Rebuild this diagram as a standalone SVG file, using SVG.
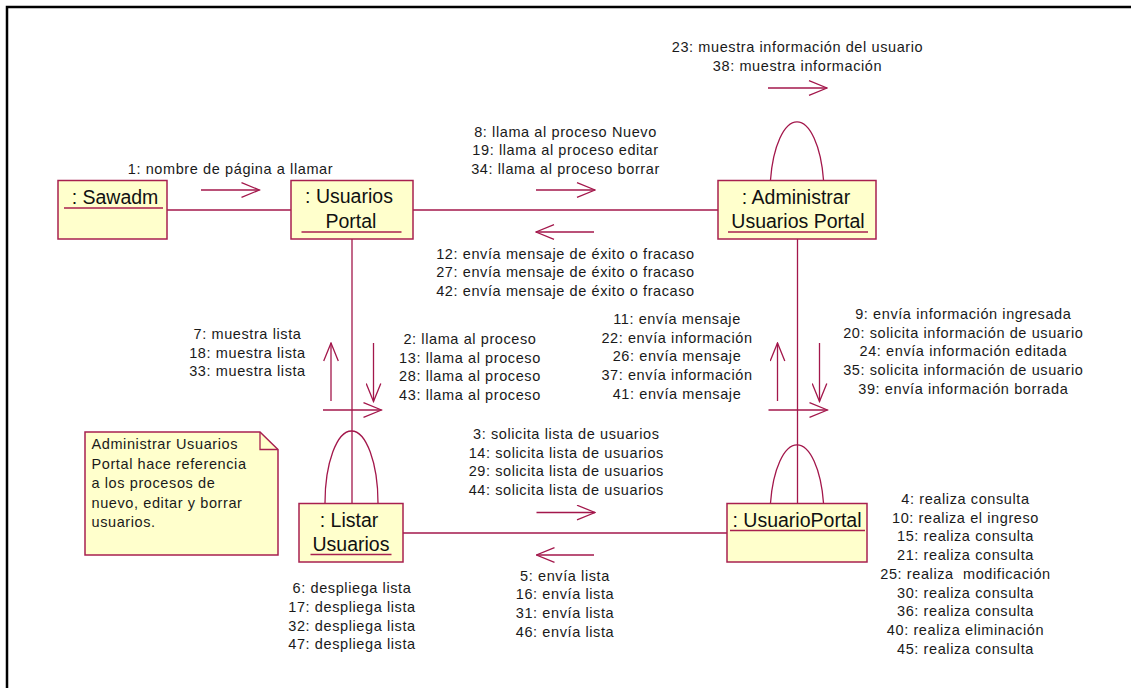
<svg xmlns="http://www.w3.org/2000/svg" width="1131" height="688" viewBox="0 0 1131 688">
  <style>
    .obj { fill: #FFFFCC; stroke: #A8204F; stroke-width: 1.5; }
    .name { font-family: "Liberation Sans", Arial, sans-serif; font-size: 19.5px; fill: #111; text-anchor: middle; }
    .uline { stroke: #A8204F; stroke-width: 1.3; }
    .link { stroke: #A3174B; stroke-width: 1.3; fill: none; }
    .msg { stroke: #A3174B; stroke-width: 1.3; fill: none; marker-end: url(#open); }
    .lbl { font-family: "Liberation Sans", Arial, sans-serif; font-size: 14.5px; letter-spacing: 0.6px; fill: #1a1a1a; text-anchor: middle; white-space: pre; }
    .note-t { font-family: "Liberation Sans", Arial, sans-serif; font-size: 14.5px; letter-spacing: 0.6px; fill: #1a1a1a; }
  </style>
  <defs>
    <marker id="open" viewBox="0 0 20 16" refX="19" refY="8" markerWidth="20" markerHeight="16" markerUnits="userSpaceOnUse" orient="auto">
      <path d="M1,0.7 L19,8 L1,15.3" fill="none" stroke="#A3174B" stroke-width="1.3"/>
    </marker>
  </defs>

  <rect width="1131" height="688" fill="#ffffff"/>
  <!-- diagram frame -->
  <rect x="7" y="7" width="1140" height="700" fill="none" stroke="#000" stroke-width="2.5"/>

  <!-- links and messages -->
  <g id="connectors">
    <line class="link" x1="167" y1="210" x2="291" y2="210"/>
    <line class="link" x1="413" y1="210" x2="718" y2="210"/>
    <line class="link" x1="352" y1="239" x2="352" y2="503"/>
    <line class="link" x1="797.5" y1="239" x2="797.5" y2="503"/>
    <line class="link" x1="403" y1="533" x2="727" y2="533"/>
    <!-- self links -->
    <path class="link" d="M770.5,180 A27,72 0 0 1 823.5,180"/>
    <path class="link" d="M325,503 A26.5,72 0 0 1 378,503"/>
    <path class="link" d="M770.5,503 A27,72 0 0 1 823.5,503"/>

    <!-- message arrows -->
    <line class="msg" x1="201" y1="190" x2="259.5" y2="190"/>
    <line class="msg" x1="536" y1="190" x2="595" y2="190"/>
    <line class="msg" x1="594" y1="232" x2="536" y2="232"/>
    <line class="msg" x1="768" y1="88" x2="827" y2="88"/>
    <line class="msg" x1="331" y1="401" x2="331" y2="343"/>
    <line class="msg" x1="373.5" y1="343" x2="373.5" y2="401.5"/>
    <line class="msg" x1="323" y1="410" x2="381.5" y2="410"/>
    <line class="msg" x1="777.5" y1="401" x2="777.5" y2="343"/>
    <line class="msg" x1="819.5" y1="343" x2="819.5" y2="401.5"/>
    <line class="msg" x1="768.5" y1="410" x2="827.5" y2="410"/>
    <line class="msg" x1="536.5" y1="512.5" x2="595" y2="512.5"/>
    <line class="msg" x1="594" y1="555" x2="536.5" y2="555"/>

    <!-- message labels -->
    <text class="lbl" x="230.5" y="174">1: nombre de página a llamar</text>
    <text class="lbl" x="565.5" y="136.5">8: llama al proceso Nuevo</text>
    <text class="lbl" x="565.5" y="155.2">19: llama al proceso editar</text>
    <text class="lbl" x="565.5" y="174">34: llama al proceso borrar</text>
    <text class="lbl" x="565.5" y="258.5">12: envía mensaje de éxito o fracaso</text>
    <text class="lbl" x="565.5" y="277.2">27: envía mensaje de éxito o fracaso</text>
    <text class="lbl" x="565.5" y="296">42: envía mensaje de éxito o fracaso</text>
    <text class="lbl" x="797.5" y="52">23: muestra información del usuario</text>
    <text class="lbl" x="797.5" y="71">38: muestra información</text>
    <text class="lbl" x="247.5" y="339">7: muestra lista</text>
    <text class="lbl" x="247.5" y="357.5">18: muestra lista</text>
    <text class="lbl" x="247.5" y="376">33: muestra lista</text>
    <text class="lbl" x="470" y="344">2: llama al proceso</text>
    <text class="lbl" x="470" y="362.7">13: llama al proceso</text>
    <text class="lbl" x="470" y="381.4">28: llama al proceso</text>
    <text class="lbl" x="470" y="400">43: llama al proceso</text>
    <text class="lbl" x="677" y="324">11: envía mensaje</text>
    <text class="lbl" x="677" y="342.7">22: envía información</text>
    <text class="lbl" x="677" y="361.4">26: envía mensaje</text>
    <text class="lbl" x="677" y="380">37: envía información</text>
    <text class="lbl" x="677" y="398.7">41: envía mensaje</text>
    <text class="lbl" x="963.3" y="319">9: envía información ingresada</text>
    <text class="lbl" x="963.3" y="337.7">20: solicita información de usuario</text>
    <text class="lbl" x="963.3" y="356.4">24: envía información editada</text>
    <text class="lbl" x="963.3" y="375">35: solicita información de usuario</text>
    <text class="lbl" x="963.3" y="393.7">39: envía información borrada</text>
    <text class="lbl" x="566.3" y="439">3: solicita lista de usuarios</text>
    <text class="lbl" x="566.3" y="457.7">14: solicita lista de usuarios</text>
    <text class="lbl" x="566.3" y="476.4">29: solicita lista de usuarios</text>
    <text class="lbl" x="566.3" y="495">44: solicita lista de usuarios</text>
    <text class="lbl" x="565" y="580.7">5: envía lista</text>
    <text class="lbl" x="565" y="599.4">16: envía lista</text>
    <text class="lbl" x="565" y="618">31: envía lista</text>
    <text class="lbl" x="565" y="636.7">46: envía lista</text>
    <text class="lbl" x="352" y="593.3">6: despliega lista</text>
    <text class="lbl" x="352" y="612">17: despliega lista</text>
    <text class="lbl" x="352" y="630.7">32: despliega lista</text>
    <text class="lbl" x="352" y="649.4">47: despliega lista</text>
    <text class="lbl" x="965.5" y="504">4: realiza consulta</text>
    <text class="lbl" x="965.5" y="522.7">10: realiza el ingreso</text>
    <text class="lbl" x="965.5" y="541.4">15: realiza consulta</text>
    <text class="lbl" x="965.5" y="560.1">21: realiza consulta</text>
    <text class="lbl" x="965.5" y="578.8">25: realiza  modificación</text>
    <text class="lbl" x="965.5" y="597.5">30: realiza consulta</text>
    <text class="lbl" x="965.5" y="616.2">36: realiza consulta</text>
    <text class="lbl" x="965.5" y="634.9">40: realiza eliminación</text>
    <text class="lbl" x="965.5" y="653.6">45: realiza consulta</text>
  </g>

  <!-- objects -->
  <g id="sawadm">
    <rect class="obj" x="58" y="180.5" width="109" height="58.5"/>
    <text class="name" x="115" y="204">: Sawadm</text>
    <line class="uline" x1="64" y1="208" x2="163" y2="208"/>
  </g>
  <g id="usuarios-portal">
    <rect class="obj" x="291" y="180.5" width="122" height="58.5"/>
    <text class="name" x="349" y="203">: Usuarios</text>
    <text class="name" x="351" y="228">Portal</text>
    <line class="uline" x1="301.5" y1="232" x2="401.5" y2="232"/>
  </g>
  <g id="administrar-usuarios-portal">
    <rect class="obj" x="718" y="180.5" width="158" height="58.5"/>
    <text class="name" x="796" y="204">: Administrar</text>
    <text class="name" x="798" y="228">Usuarios Portal</text>
    <line class="uline" x1="728" y1="232" x2="868" y2="232"/>
  </g>
  <g id="listar-usuarios">
    <rect class="obj" x="299" y="503.5" width="104" height="58.5"/>
    <text class="name" x="349" y="527">: Listar</text>
    <text class="name" x="351" y="551">Usuarios</text>
    <line class="uline" x1="310.5" y1="554.5" x2="391.5" y2="554.5"/>
  </g>
  <g id="usuario-portal">
    <rect class="obj" x="727" y="503.5" width="140" height="58.5"/>
    <text class="name" x="797" y="527">: UsuarioPortal</text>
    <line class="uline" x1="730" y1="530.5" x2="865" y2="530.5"/>
  </g>

  <!-- note -->
  <g id="note">
    <path class="obj" d="M85,432 L260,432 L278,449.5 L278,555 L85,555 Z"/>
    <path d="M260,432 L260,449.5 L278,449.5" fill="none" stroke="#A8204F" stroke-width="1.3"/>
    <text class="note-t" x="91.5" y="449">Administrar Usuarios</text>
    <text class="note-t" x="91.5" y="468.6">Portal hace referencia</text>
    <text class="note-t" x="91.5" y="488.2">a los procesos de</text>
    <text class="note-t" x="91.5" y="507.8">nuevo, editar y borrar</text>
    <text class="note-t" x="91.5" y="527.4">usuarios.</text>
  </g>
</svg>
